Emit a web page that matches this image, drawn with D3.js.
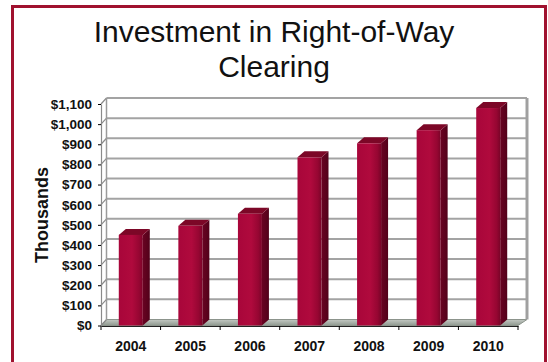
<!DOCTYPE html>
<html>
<head>
<meta charset="utf-8">
<script src="https://cdn.jsdelivr.net/npm/d3@7"></script>
<style>
  html, body { margin: 0; padding: 0; background: #fff; }
  svg { display: block; font-family: "Liberation Sans", Arial, sans-serif; }
</style>
</head>
<body>
<svg id="chart" width="548" height="362"></svg>
<script>
// Annual right-of-way clearing investment, in thousands of dollars
const years = ["2004", "2005", "2006", "2007", "2008", "2009", "2010"];
const investment = [450, 495, 555, 835, 905, 970, 1080];
const yTickValues = [0, 100, 200, 300, 400, 500, 600, 700, 800, 900, 1000, 1100];
const titleLines = ["Investment in Right-of-Way", "Clearing"];
const yAxisTitle = "Thousands";

const svg = d3.select("#chart");

// Front plane scales
const x = d3.scaleBand().domain(years).range([101, 518]).padding(0);
const y = d3.scaleLinear().domain([0, 1100]).range([325.5, 104]);
// Back wall is pushed up/right to fake depth
const wallDy = -6;
const xBack = d3.scaleLinear().domain([101, 518]).range([106.5, 527]);

const defs = svg.append("defs");
const fg = defs.append("linearGradient").attr("id", "barFront")
  .attr("x1", "0").attr("x2", "1").attr("y1", "0").attr("y2", "0");
fg.append("stop").attr("offset", "0%").attr("stop-color", "#a8063a");
fg.append("stop").attr("offset", "55%").attr("stop-color", "#b00a3d");
fg.append("stop").attr("offset", "85%").attr("stop-color", "#960632");
fg.append("stop").attr("offset", "100%").attr("stop-color", "#7a0428");
const sg = defs.append("linearGradient").attr("id", "barSide")
  .attr("x1", "0").attr("x2", "1").attr("y1", "0").attr("y2", "0");
sg.append("stop").attr("offset", "0%").attr("stop-color", "#6a0322");
sg.append("stop").attr("offset", "100%").attr("stop-color", "#52011a");
const flg = defs.append("linearGradient").attr("id", "floorFill")
  .attr("x1", "0").attr("x2", "0").attr("y1", "0").attr("y2", "1");
flg.append("stop").attr("offset", "0%").attr("stop-color", "#c3c9c3");
flg.append("stop").attr("offset", "100%").attr("stop-color", "#8f988f");

// Outer frame
svg.append("rect")
  .attr("x", 12.5).attr("y", 6.5).attr("width", 533).attr("height", 400)
  .attr("fill", "#fff").attr("stroke", "#a0112f").attr("stroke-width", 3);

// Title
svg.append("text")
  .attr("x", 274).attr("text-anchor", "middle")
  .attr("font-size", 30).attr("fill", "#111")
  .selectAll("tspan").data(titleLines).join("tspan")
  .attr("x", 274).attr("y", (d, i) => 42 + i * 35)
  .text(d => d);

const x0 = x.range()[0], x1 = x.range()[1];
const yTop = y(1100), yBot = y(0);

// Floor
svg.append("path")
  .attr("d", `M${x0},${yBot} L${xBack(x0)},${yBot + wallDy} L${xBack(x1)},${yBot + wallDy} L${x1},${yBot} Z`)
  .attr("fill", "url(#floorFill)").attr("stroke", "#8c948c").attr("stroke-width", 1);

// Back wall gridlines
svg.append("g").selectAll("line").data(yTickValues.filter(d => d > 0)).join("line")
  .attr("x1", xBack(x0)).attr("x2", xBack(x1))
  .attr("y1", d => y(d) + wallDy).attr("y2", d => y(d) + wallDy)
  .attr("stroke", "#a3a3a3").attr("stroke-width", 2);

// Side wall gridlines (slanted)
svg.append("g").selectAll("line").data(yTickValues).join("line")
  .attr("x1", x0).attr("x2", xBack(x0))
  .attr("y1", d => y(d)).attr("y2", d => y(d) + wallDy)
  .attr("stroke", "#8a8a8a").attr("stroke-width", 1.2);

// Wall edges
svg.append("line")
  .attr("x1", xBack(x0)).attr("x2", xBack(x0))
  .attr("y1", yTop + wallDy).attr("y2", yBot + wallDy)
  .attr("stroke", "#9a9a9a").attr("stroke-width", 1.5);
svg.append("line")
  .attr("x1", xBack(x1)).attr("x2", xBack(x1))
  .attr("y1", yTop + wallDy).attr("y2", yBot + wallDy)
  .attr("stroke", "#a0a0a0").attr("stroke-width", 3);

// 3D bars
const barW = 24, bdx = 7, bdy = -6;
const bars = svg.append("g").selectAll("g").data(years.map((yr, i) => ({ yr, v: investment[i] }))).join("g");
bars.append("path")
  .attr("d", d => {
    const bx = x(d.yr) + x.bandwidth() / 2 - barW / 2 + barW;
    return `M${bx},${y(d.v)} L${bx + bdx},${y(d.v) + bdy} L${bx + bdx},${yBot + bdy} L${bx},${yBot} Z`;
  })
  .attr("fill", "url(#barSide)");
bars.append("path")
  .attr("d", d => {
    const bx = x(d.yr) + x.bandwidth() / 2 - barW / 2;
    return `M${bx},${y(d.v)} L${bx + bdx},${y(d.v) + bdy} L${bx + barW + bdx},${y(d.v) + bdy} L${bx + barW},${y(d.v)} Z`;
  })
  .attr("fill", "#7c0727");
bars.append("rect")
  .attr("x", d => x(d.yr) + x.bandwidth() / 2 - barW / 2)
  .attr("y", d => y(d.v))
  .attr("width", barW)
  .attr("height", d => yBot - y(d.v))
  .attr("fill", "url(#barFront)");

// Y axis
const yAxis = svg.append("g")
  .attr("transform", `translate(${x0},0)`)
  .call(d3.axisLeft(y).tickValues(yTickValues)
    .tickFormat(d => "$" + d3.format(",")(d))
    .tickSize(3).tickSizeOuter(0).tickPadding(6));
yAxis.select(".domain").attr("stroke", "#8a8a8a").attr("stroke-width", 1.2);
yAxis.selectAll(".tick line").attr("stroke", "#000");
yAxis.selectAll("text")
  .attr("font-size", 13.5).attr("font-weight", "bold").attr("fill", "#111")
  .attr("font-family", "'Liberation Sans', Arial, sans-serif");

// X axis: labels at band centres, ticks at band edges
const xAxis = svg.append("g")
  .attr("transform", `translate(0,${yBot + 0.5})`)
  .call(d3.axisBottom(x).tickSize(0).tickPadding(15));
xAxis.select(".domain").attr("stroke", "#222").attr("stroke-width", 1.2);
xAxis.selectAll("text")
  .attr("font-size", 14).attr("font-weight", "bold").attr("fill", "#111")
  .attr("font-family", "'Liberation Sans', Arial, sans-serif");
svg.append("g").selectAll("line").data(years.concat([null])).join("line")
  .attr("x1", d => d === null ? x1 : x(d))
  .attr("x2", d => d === null ? x1 : x(d))
  .attr("y1", yBot + 0.5).attr("y2", yBot + 4.5)
  .attr("stroke", "#000").attr("stroke-width", 1);

// Y axis title
svg.append("text")
  .attr("transform", "translate(48,215) rotate(-90)")
  .attr("text-anchor", "middle")
  .attr("font-size", 18).attr("font-weight", "bold").attr("fill", "#111")
  .text(yAxisTitle);
</script>
</body>
</html>
